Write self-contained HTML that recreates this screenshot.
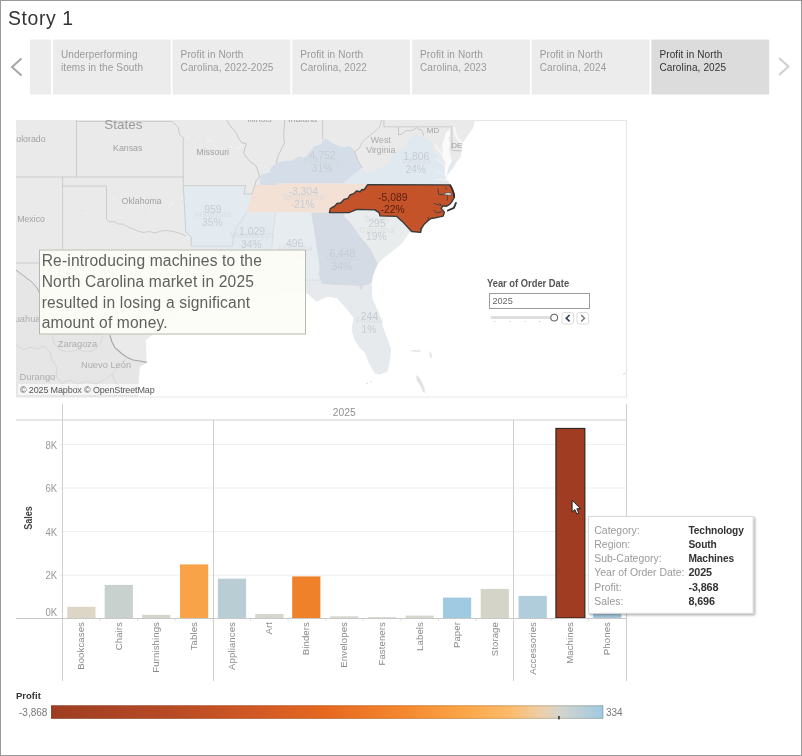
<!DOCTYPE html>
<html lang="en">
<head>
<meta charset="utf-8">
<title>Story 1</title>
<style>
html,body{margin:0;padding:0;background:#fff;}
body{width:802px;height:756px;position:relative;overflow:hidden;font-family:"Liberation Sans",sans-serif;color:#333;}
#frame{position:absolute;left:0;top:0;width:800px;height:754px;border:1px solid #9a9a9a;pointer-events:none;z-index:50;}
#title{position:absolute;left:8px;top:6.4px;font-size:19.4px;line-height:24px;color:#333;letter-spacing:0.6px;white-space:nowrap;}
.nav{position:absolute;top:40px;height:55px;z-index:3;box-sizing:border-box;padding:8px 0 0 8px;font-size:10px;line-height:13.3px;color:#9a9a9a;letter-spacing:0.12px;white-space:nowrap;}
.nav.on{color:#333;}
#anno{position:absolute;left:39px;top:250px;width:267px;height:85px;box-sizing:border-box;border:1px solid #b8b8b0;background:rgba(253,253,246,0.93);padding:0.4px 0 0 1.7px;transform:translate(0,-0.5px);font-size:15.6px;line-height:20.6px;color:#606060;white-space:nowrap;letter-spacing:0.15px;}
#flt-title{position:absolute;left:487px;top:277.6px;font-size:10px;transform:scaleX(0.935);transform-origin:0 0;font-weight:bold;color:#555;white-space:nowrap;letter-spacing:0;line-height:12px;}
#flt-box{position:absolute;left:489px;top:293px;width:101px;height:16px;box-sizing:border-box;border:1px solid #9c9c9c;background:#fff;font-size:9.2px;line-height:14px;padding-left:2.4px;color:#666;}
.btn{position:absolute;top:312px;width:12px;height:12px;box-sizing:border-box;border:1px solid #dcdcdc;border-radius:2px;background:#fff;}
#tip{position:absolute;left:588px;top:516px;width:166px;height:98px;box-sizing:border-box;border:1px solid #dcdcdc;background:#fff;box-shadow:1.5px 1.5px 2.5px rgba(0,0,0,0.3);z-index:20;}
#tip div{position:absolute;left:5.5px;margin-top:1px;font-size:10.45px;line-height:14px;color:#9a9a9a;white-space:nowrap;}
#tip div b{position:absolute;left:94px;top:0;color:#333;font-weight:bold;font-size:10.2px;letter-spacing:-0.1px;}
#attr{position:absolute;left:18px;top:384px;width:137px;height:11px;background:rgba(255,255,255,0.6);font-size:9px;line-height:12.4px;color:#585858;white-space:nowrap;padding-left:2px;letter-spacing:-0.15px;box-sizing:border-box;}
#lg-title{position:absolute;left:16px;top:689.5px;font-size:9.5px;font-weight:bold;color:#333;line-height:12px;}
#lg-min{position:absolute;left:19px;top:706.7px;font-size:10px;color:#777;line-height:12px;}
#lg-max{position:absolute;left:606px;top:706.7px;font-size:10px;color:#777;line-height:12px;}
#lg-bar{position:absolute;left:51px;top:705.4px;width:552.3px;height:13px;background:linear-gradient(to right,#9e3d22 0%,#b84a24 22%,#d35a25 38%,#e7691f 50%,#f5882f 64%,#fba445 74%,#fdba69 83%,#ecd0ab 89%,#d5d5cc 92%,#b9cfd8 96%,#9ecae1 100%);}
svg{position:absolute;left:0;top:0;}
</style>
</head>
<body>
<div id="title">Story 1</div>

<!-- navigator -->
<div class="nav" style="left:52.9px;width:118px;">Underperforming<br>items in the South</div>
<div class="nav" style="left:172.6px;width:118px;">Profit in North<br>Carolina, 2022-2025</div>
<div class="nav" style="left:292.3px;width:118px;">Profit in North<br>Carolina, 2022</div>
<div class="nav" style="left:412.0px;width:118px;">Profit in North<br>Carolina, 2023</div>
<div class="nav" style="left:531.7px;width:118px;">Profit in North<br>Carolina, 2024</div>
<div class="nav on" style="left:651.4px;width:118px;">Profit in North<br>Carolina, 2025</div>

<!-- MAP + CHART SVG -->
<svg id="main" width="802" height="756" viewBox="0 0 802 756">
<defs><clipPath id="mc"><rect x="16" y="120" width="611" height="277"/></clipPath></defs>
<rect x="16.5" y="120.5" width="610" height="276.5" fill="none" stroke="#e6e6e6" stroke-width="1"/>
<g clip-path="url(#mc)">
<path d="M16,120 L475.2,120 L472.9,128.5 L467.3,136.3 L462.8,143 L461.7,150.9 L460.6,157.6 L456.1,162 L452,168 L448.3,173.4 L447.5,176 L448.3,181.2 L449.9,184.6 L451,186.2 L453.7,193.7 L452.8,199.3 L447.2,203 L444.4,210.5 L443.4,215.2 L436,217 L428.5,219.9 L421.9,225.5 L421,231 L411.6,231.5 L409.7,232 L402.2,243 L391.9,251.4 L383.5,258 L377.9,263.6 L373.2,274.8 L371.4,283.2 L372.3,298.7 L379.8,315.5 L383.5,328.6 L391,349.2 L389.5,362 L387.3,371.6 L379.8,374.4 L375.1,373.5 L368.5,362.3 L364.8,352 L360.1,348.3 L354.5,339.8 L351.7,330.5 L353.6,317.4 L346.1,308 L336.8,297.8 L327.4,296.8 L316.2,301.5 L305.9,292.2 L290,292 L270,296 L250,298 L232,305 L215,302 L195,300 L180,310 L165,322 L152,335 L146,340 L146.7,362.4 L139.7,367 L138.4,385 L138,397 L16,397Z" fill="#eaeaea"/>
<path d="M16,270 L32.5,282.5 L40,293.7 L60,300 L85,315 L109.8,335 L114.7,347.4 L127.2,357.4 L139.7,361 L146.7,362.4 L139.7,367 L138.4,385 L138,397 L16,397Z" fill="#e6e6e6"/>
<path d="M259.7,177.1 L260.5,174.9 L269.5,172.6 L270.9,167.4 L276.9,162.9 L287.4,160.5 L290,160.9 L295.2,158.8 L298.7,156.1 L301.3,157 L304,157.9 L307.5,154.4 L311.8,149.6 L314,146.1 L319.7,144.8 L321.9,143.5 L322.9,139 L327.5,139.2 L331,142.6 L335.4,144.4 L339.7,146.5 L344.1,147 L349.3,145.7 L352.8,148.7 L354.7,151.4 L357.7,160.4 L362.2,167.9 L342.8,183.5 L277,183.5 L277,185 L259.7,185Z" fill="#d5dee8"/>
<path d="M255,185 L277,185 L277,183.8 L368,183.8 L364,190 L360.2,191.8 L353.7,193.7 L348,198.4 L340.6,203 L335,205.9 L330.3,208.7 L329.4,212.4 L246.4,212.4 L249,203 L252,194Z" fill="#f3e1d6"/>
<path d="M342.8,183.8 L362.2,167.9 L366.7,172.4 L371.9,171.6 L379.4,168.6 L386.9,164.9 L389.9,158.9 L395.8,151.4 L401.8,148.4 L407.8,140.9 L413.8,134.2 L416,132.7 L419.8,135 L423.5,135.7 L427.3,139.5 L434.7,142.4 L433.2,146.2 L431.8,149.9 L437.7,155.9 L443.7,163.4 L445.2,169.4 L443.7,175.4 L448.3,181.2 L449.9,184.6Z" fill="#e1e9f0"/>
<path d="M183.7,185.7 L245.5,185.7 L244,194 L252,194 L249,203 L246.4,212 L241.7,220.6 L236,228 L233.3,237.4 L232.4,246.2 L191.2,246.2 L191.2,237 L185.8,232Z" fill="#e4ebf0"/>
<path d="M191.2,246.2 L232.4,246.2 L232,260 L240,275 L262,275 L264,296 L232,305 L215,302 L195,300 L196,270Z" fill="#e5eaee"/>
<path d="M246.4,212.4 L275.4,212.4 L271.6,249.6 L271,285 L272,296 L264,296 L262,275 L240,275 L232,260 L232.4,246.2 L233.3,237.4 L236,228 L241.7,220.6Z" fill="#e3eaef"/>
<path d="M275.4,212.4 L311.8,212.4 L320.3,263.6 L318.4,274.8 L320,280.2 L285,280.2 L286,293 L272,296 L271,285 L271.6,249.6Z" fill="#e6ecf0"/>
<path d="M311.5,212.7 L344,212.7 L344.2,215.9 L351.7,224.3 L361,237.4 L370.4,248.6 L375,258 L377.9,263.6 L373.2,274.8 L371.4,283.2 L363,286 L362,289.8 L360,289.8 L359.2,286 L321.8,284.2 L319,274.8 L319.5,265.5Z" fill="#d4dbe5"/>
<path d="M344,212.7 L350,208 L380,208 L380,214 L398,214 L409.7,230.9 L409.7,232 L402.2,243 L391.9,251.4 L383.5,258 L377.9,263.6 L375,258 L370.4,248.6 L361,237.4 L351.7,224.3 L344.2,215.9Z" fill="#e9eced"/>
<path d="M285,280.2 L320,280.2 L321.8,284.2 L359.2,286 L360,289.8 L362,289.8 L363,286 L371.4,283.2 L372.3,298.7 L379.8,315.5 L383.5,328.6 L391,349.2 L389.5,362 L387.3,371.6 L379.8,374.4 L375.1,373.5 L368.5,362.3 L364.8,352 L360.1,348.3 L354.5,339.8 L351.7,330.5 L353.6,317.4 L346.1,308 L336.8,297.8 L327.4,296.8 L316.2,301.5 L305.9,292.2 L286,293Z" fill="#e7eaec"/>
<path d="M449.4,129.5 L450.2,134 L448.5,138 L449.8,143 L449.2,150 L450.5,156 L452,160.5 L449,166 L447.5,172 L447.5,176 L448.3,181.2 L446,179.5 L444.6,171 L445.2,163 L442.8,158 L442.6,150 L442.2,144 L444.2,139 L445.6,133Z" fill="#fbfbfb"/>
<path d="M453.3,125.7 L455.5,128 L456,132 L458.4,137.4 L461,141 L463,143 L461,144 L457,140 L454,134 L453,129Z" fill="#f6f6f6"/>
<path d="M443.5,157 L440,151.5 L436.8,147.8 L434.6,144.2" fill="none" stroke="#f7f9fa" stroke-width="1.3" stroke-linecap="round" opacity="0.85"/>
<path d="M445,166 L440.5,162 L436.5,159" fill="none" stroke="#f7f9fa" stroke-width="0.8" stroke-linecap="round" opacity="0.85"/>
<path d="M444.5,175.5 L440.5,172.5 L436.5,171" fill="none" stroke="#f7f9fa" stroke-width="0.8" stroke-linecap="round" opacity="0.85"/>
<path d="M446,181 L441.5,179.2 L437,179.6" fill="none" stroke="#f7f9fa" stroke-width="0.9" stroke-linecap="round" opacity="0.85"/>
<path d="M456,158.8 L458.4,158.8 L453,168 L448.3,174 L447.6,172 L450,166 L452.7,160Z" fill="#e1e9f0"/>
<path d="M76.5,120 L76.5,177" fill="none" stroke="#c5c5c5" stroke-width="0.8"/>
<path d="M16,177 L183.3,177" fill="none" stroke="#c5c5c5" stroke-width="0.8"/>
<path d="M76.5,121.5 L172,121.5 L175,124 L178.3,127.5 L179.5,135 L183.3,137.4 L183.3,185 L185.8,232 L191.2,237 L191.2,246.2" fill="none" stroke="#c5c5c5" stroke-width="0.8"/>
<path d="M62.6,177 L62.6,250" fill="none" stroke="#c5c5c5" stroke-width="0.8"/>
<path d="M62.6,186 L106.5,186 L106.5,219 L110,222 L114,221.5 L118,224 L123,224 L128,227 L133,229 L138,231 L143,232.5 L149,231.5 L155,233 L161,231 L167,230.5 L173,231.5 L179,233 L186,236" fill="none" stroke="#c5c5c5" stroke-width="0.8"/>
<path d="M183.7,185.7 L245.5,185.7 L244,194 L252,194 L254.8,185" fill="none" stroke="#c5c5c5" stroke-width="0.8"/>
<path d="M226.8,120.3 L231,127 L236,132.4 L239,139 L241.7,142.7 L246.4,143.7 L245,148 L243.6,153 L247,158 L250,161.4 L256,165.9 L258,171 L259.5,176.5 L256,181 L254.8,185" fill="none" stroke="#bdbdbd" stroke-width="0.8"/>
<path d="M284.7,120 L283.7,134.5 L284.4,143.4 L281,150 L278.4,155.4 L276.2,162.9" fill="none" stroke="#bdbdbd" stroke-width="0.8"/>
<path d="M322.6,120 L322.6,139" fill="none" stroke="#c5c5c5" stroke-width="0.8"/>
<path d="M354.7,151.4 L359.2,148.4 L362.2,142.4 L365.9,138.7 L373.4,132.7 L379.4,127.5 L381.6,120" fill="none" stroke="#c5c5c5" stroke-width="0.8"/>
<path d="M383.9,120 L383.9,126.8 L451.8,126.8" fill="none" stroke="#c5c5c5" stroke-width="0.8"/>
<path d="M398.5,127 L398.5,135 L401.8,134.2 L404.5,131.5 L407.8,130.5 L410.5,131 L413.8,129.7 L416.8,127.5 L419,129.5 L421.3,129.7 L423.5,134.2 L423.5,135.7" fill="none" stroke="#bdbdbd" stroke-width="0.8"/>
<path d="M451.8,126.2 L451.8,149.8 L453,150.6 L461.7,150.9" fill="none" stroke="#c4c4c4" stroke-width="0.9"/>
<path d="M362.2,167.9 L357.7,160.4 L354.7,151.4" fill="none" stroke="#c5c5c5" stroke-width="0.8"/>
<path d="M275.4,212.4 L271.6,249.6" fill="none" stroke="#d6dce0" stroke-width="0.8"/>
<path d="M311.8,212.4 L320.3,263.6" fill="none" stroke="#d6dce0" stroke-width="0.6"/>
<path d="M232.4,246.2 L233.3,237.4 L236,228 L241.7,220.6 L246.4,212" fill="none" stroke="#cfd6db" stroke-width="0.8"/>
<path d="M191.2,246.2 L232.4,246.2" fill="none" stroke="#d0d6da" stroke-width="0.8"/>
<path d="M285,280.2 L320,280.2" fill="none" stroke="#d9dde0" stroke-width="0.8"/>
<path d="M16,263 L40,263" fill="none" stroke="#c5c5c5" stroke-width="0.8"/>
<path d="M16,270 L24,276 L32.5,282.5 L37,288 L40,293.7" fill="none" stroke="#ababab" stroke-width="1"/>
<path d="M109.8,335 L112,342 L114.7,347.4 L121,353 L127.2,357.4 L133,360 L139.7,361 L146.7,362.4" fill="none" stroke="#a6a6a6" stroke-width="1.1"/>
<path d="M16,345 L24,350 L30,347 L38,349 L44,346 L50,352 L52,360 L57,368 L56,376 L62,383 L60,390 L64,397" fill="none" stroke="#d0d0d0" stroke-width="0.7"/>
<path d="M52,334 L54,343 L60,350 L68,352 L78,350 L88,352 L96,349 L100,343 L103,336" fill="none" stroke="#d2d2d2" stroke-width="0.7"/>
<path d="M62,383 L70,380 L78,384 L86,381 L96,384 L104,380 L112,374 L118,366 L127.2,357.4" fill="none" stroke="#d2d2d2" stroke-width="0.7"/>
<path d="M96,384 L97,391 L95,397" fill="none" stroke="#d2d2d2" stroke-width="0.7"/>
<path d="M112,374 L116,384 L114,397" fill="none" stroke="#d2d2d2" stroke-width="0.7"/>
<path d="M207.4,137.5 L208.4,140.2 L209.9,141.2 L212.3,141.2" fill="none" stroke="#f6f6f6" stroke-width="0.9" stroke-linecap="round" opacity="0.9"/>
<path d="M187.4,136.2 L189.9,138.1" fill="none" stroke="#f6f6f6" stroke-width="0.9" stroke-linecap="round" opacity="0.9"/>
<path d="M207.4,156.8 L209.8,157.6 L212.3,156.2" fill="none" stroke="#f6f6f6" stroke-width="0.9" stroke-linecap="round" opacity="0.9"/>
<path d="M234.8,148.7 L238.5,147.6 L242.3,145" fill="none" stroke="#f6f6f6" stroke-width="0.9" stroke-linecap="round" opacity="0.9"/>
<path d="M198.5,136 L200,136.6" fill="none" stroke="#f6f6f6" stroke-width="0.9" stroke-linecap="round" opacity="0.9"/>
<path d="M214,145.5 L217,147.5" fill="none" stroke="#f6f6f6" stroke-width="0.9" stroke-linecap="round" opacity="0.9"/>
<path d="M229,146 L231.5,147.2" fill="none" stroke="#f6f6f6" stroke-width="0.9" stroke-linecap="round" opacity="0.9"/>
<path d="M112,197.5 L114,199.5" fill="none" stroke="#f6f6f6" stroke-width="0.9" stroke-linecap="round" opacity="0.9"/>
<path d="M168,207 L170.5,205 L172,202" fill="none" stroke="#f6f6f6" stroke-width="0.9" stroke-linecap="round" opacity="0.9"/>
<path d="M150,213 L152,214.5" fill="none" stroke="#f6f6f6" stroke-width="0.9" stroke-linecap="round" opacity="0.9"/>
<path d="M85,213 L87,214" fill="none" stroke="#f6f6f6" stroke-width="0.9" stroke-linecap="round" opacity="0.9"/>
<text x="123.4" y="129" font-size="13.5" fill="#9a9a9a" text-anchor="middle" >States</text>
<text x="127.7" y="150.5" font-size="8.8" fill="#a2a2a2" text-anchor="middle" >Kansas</text>
<text x="45.6" y="141.8" font-size="8.8" fill="#a2a2a2" text-anchor="end" >Colorado</text>
<text x="141.6" y="204.2" font-size="8.8" fill="#a2a2a2" text-anchor="middle" >Oklahoma</text>
<text x="45" y="221.6" font-size="8.8" fill="#a2a2a2" text-anchor="end" >New Mexico</text>
<text x="212.7" y="155.2" font-size="8.8" fill="#a2a2a2" text-anchor="middle" >Missouri</text>
<text x="259.5" y="122.4" font-size="8.8" fill="#a2a2a2" text-anchor="middle" >Illinois</text>
<text x="302.5" y="122.4" font-size="8.8" fill="#a2a2a2" text-anchor="middle" >Indiana</text>
<text x="380.8" y="143.2" font-size="8.8" fill="#aaaaaa" text-anchor="middle" >West</text>
<text x="380.8" y="153" font-size="8.8" fill="#aaaaaa" text-anchor="middle" >Virginia</text>
<text x="433" y="133.2" font-size="8" fill="#a2a2a2" text-anchor="middle" >MD</text>
<text x="456.8" y="147.8" font-size="8" fill="#a2a2a2" text-anchor="middle" >DE</text>
<text x="40.5" y="321.8" font-size="9.3" fill="#adadad" text-anchor="end" >Chihuahua</text>
<text x="77.5" y="334.5" font-size="9.3" fill="#c4c4c4" text-anchor="middle" >Coahuila de</text>
<text x="77.5" y="346.8" font-size="9.3" fill="#adadad" text-anchor="middle" >Zaragoza</text>
<text x="106" y="368" font-size="9.3" fill="#adadad" text-anchor="middle" >Nuevo León</text>
<text x="37.4" y="380.4" font-size="9.3" fill="#adadad" text-anchor="middle" >Durango</text>
<text x="322" y="163.5" font-size="9" fill="#cdd1d5" text-anchor="middle" opacity="0.5">Kentucky</text>
<text x="303" y="200" font-size="9" fill="#cdd1d5" text-anchor="middle" opacity="0.5">Tennessee</text>
<text x="212.5" y="217" font-size="9" fill="#cdd1d5" text-anchor="middle" opacity="0.5">Arkansas</text>
<text x="251.5" y="238" font-size="9" fill="#cdd1d5" text-anchor="middle" opacity="0.5">Mississippi</text>
<text x="295" y="250.5" font-size="9" fill="#cdd1d5" text-anchor="middle" opacity="0.5">Alabama</text>
<text x="416" y="163.5" font-size="9" fill="#cdd1d5" text-anchor="middle" opacity="0.5">Virginia</text>
<text x="342" y="261" font-size="9" fill="#cdd1d5" text-anchor="middle" opacity="0.5">Georgia</text>
<text x="369.5" y="323" font-size="9" fill="#cdd1d5" text-anchor="middle" opacity="0.5">Florida</text>
<text x="377" y="222" font-size="9.5" fill="#d5d7d9" text-anchor="middle" opacity="0.6">South</text>
<text x="377" y="233" font-size="9.5" fill="#d5d7d9" text-anchor="middle" opacity="0.6">Carolina</text>
<text x="322.6" y="159.1" font-size="10.4" fill="#c6ccd3" text-anchor="middle" >4,752</text>
<text x="322" y="172.2" font-size="10.3" fill="#c6ccd3" text-anchor="middle" >31%</text>
<text x="303.2" y="195.1" font-size="10.4" fill="#c6ccd3" text-anchor="middle" >-3,304</text>
<text x="302.6" y="208.2" font-size="10.3" fill="#c6ccd3" text-anchor="middle" >-21%</text>
<text x="212.9" y="212.6" font-size="10.4" fill="#c6ccd3" text-anchor="middle" >959</text>
<text x="212.3" y="225.7" font-size="10.3" fill="#c6ccd3" text-anchor="middle" >35%</text>
<text x="252" y="234.5" font-size="10.4" fill="#c6ccd3" text-anchor="middle" >1,029</text>
<text x="251.4" y="247.6" font-size="10.3" fill="#c6ccd3" text-anchor="middle" >34%</text>
<text x="294.6" y="247.2" font-size="10.4" fill="#c6ccd3" text-anchor="middle" >496</text>
<text x="294" y="260.3" font-size="10.3" fill="#c6ccd3" text-anchor="middle" >27%</text>
<text x="416.3" y="159.8" font-size="10.4" fill="#c6ccd3" text-anchor="middle" >1,806</text>
<text x="415.7" y="172.9" font-size="10.3" fill="#c6ccd3" text-anchor="middle" >24%</text>
<text x="377" y="226.9" font-size="10.4" fill="#c6ccd3" text-anchor="middle" >295</text>
<text x="376.4" y="240" font-size="10.3" fill="#c6ccd3" text-anchor="middle" >19%</text>
<text x="342.4" y="257.2" font-size="10.4" fill="#c6ccd3" text-anchor="middle" >6,448</text>
<text x="341.8" y="270.3" font-size="10.3" fill="#c6ccd3" text-anchor="middle" >34%</text>
<text x="369.5" y="319.5" font-size="10.4" fill="#c6ccd3" text-anchor="middle" >244</text>
<text x="368.9" y="332.6" font-size="10.3" fill="#c6ccd3" text-anchor="middle" >1%</text>
<path d="M367.7,184.6 L449.9,184.9 L451.9,188.3 L453.9,193.9 L454.3,197.4 L452.3,201 L449.9,204.2 L446.7,206.2 L442.8,205.8 L441.2,208.6 L444.4,212.1 L443.2,216.1 L439.6,216.9 L435.6,217.7 L430.9,218.5 L427.7,220.9 L423.7,224.8 L421.3,228.8 L420.6,232.4 L411.6,231.5 L402.8,221.9 L396.8,216.4 L379.9,215.9 L379.4,212.9 L374.9,209.9 L356.9,209.4 L348.9,212.6 L329.4,212.6 L330.3,208.7 L335,205.9 L337,203.5 L340.6,203 L344,199.5 L348,198.4 L350,195 L353.7,193.7 L356.5,191 L360.2,191.8 L362,189.5 L364,190Z" fill="#c5532a" stroke="#3a3a3a" stroke-width="1.4" stroke-linejoin="round"/>
<path d="M442.6,194.6 L445,193.2 L448,192.6 L451.4,193.2 L452,195 L448.5,195.2 L445.5,194.8Z" fill="#f6f2f0" stroke="#3a3a3a" stroke-width="0.7"/>
<path d="M438,188.7 L438.3,192 L438.8,194.6 L442.6,194.6" fill="none" stroke="#444" stroke-width="1"/>
<path d="M447.5,196.3 L447.6,198.5 L447.1,200.6" fill="none" stroke="#444" stroke-width="1"/>
<path d="M433.7,203.4 L437.5,204.6 L441.2,205.4" fill="none" stroke="#444" stroke-width="1"/>
<path d="M439.5,203.2 L441.2,205.4" fill="none" stroke="#444" stroke-width="1"/>
<path d="M433.3,210.1 L435,211.8 L437.2,212.9 L442,211.7" fill="none" stroke="#444" stroke-width="1"/>
<path d="M428,217 L428.4,219.5" fill="none" stroke="#444" stroke-width="1"/>
<path d="M420.6,227.5 L420.9,231" fill="none" stroke="#444" stroke-width="1"/>
<path d="M445.5,187.5 L447,189.5" fill="none" stroke="#444" stroke-width="1"/>
<path d="M449.9,184.7 L451.9,188.3 L453.9,193.9 L454.3,197.4" fill="none" stroke="#333" stroke-width="1.8"/>
<path d="M447.9,210.5 L453.9,207.8 L455.9,203" fill="none" stroke="#333" stroke-width="1.9" stroke-linecap="round" stroke-linejoin="round"/>
<text x="392.8" y="200.8" font-size="10.3" fill="#561f0c" text-anchor="middle" >-5,089</text>
<text x="392.6" y="213.2" font-size="10.3" fill="#561f0c" text-anchor="middle" >-22%</text>
<path d="M410,351.2 L413,350 L417,350.2 L421,350.8 L420,352 L414,351.5Z" fill="#e2e2e2"/>
<path d="M429,351 L430.5,352 L432,356 L431,358.5 L430,356Z" fill="#e2e2e2"/>
<path d="M416,375 L419,377 L422,382 L424.5,388 L425,393 L423,392 L420.5,386 L417,381Z" fill="#e2e2e2"/>
<path d="M366,383.8 L368,383 M370,382.3 L372,381.6" stroke="#d6d6d6" stroke-width="0.9" fill="none"/>
<path d="M623,374.5 L625.5,373" stroke="#cfcfcf" stroke-width="0.9" fill="none"/>
</g>
<line x1="58.5" y1="444.5" x2="626.5" y2="444.5" stroke="#efefef" stroke-width="1"/>
<line x1="58.5" y1="488" x2="626.5" y2="488" stroke="#efefef" stroke-width="1"/>
<line x1="58.5" y1="531.6" x2="626.5" y2="531.6" stroke="#efefef" stroke-width="1"/>
<line x1="58.5" y1="575.2" x2="626.5" y2="575.2" stroke="#efefef" stroke-width="1"/>
<line x1="16" y1="420" x2="626.5" y2="420" stroke="#cfcfcf" stroke-width="1"/>
<line x1="62.5" y1="404" x2="62.5" y2="681" stroke="#cfcfcf" stroke-width="1"/>
<line x1="626.5" y1="404" x2="626.5" y2="681" stroke="#cfcfcf" stroke-width="1"/>
<line x1="213.5" y1="420" x2="213.5" y2="681" stroke="#cfcfcf" stroke-width="1"/>
<line x1="513.5" y1="420" x2="513.5" y2="681" stroke="#cfcfcf" stroke-width="1"/>
<rect x="67.3" y="606.8" width="28.2" height="11.2" fill="#ddd5c5"/>
<rect x="104.7" y="584.9" width="28.2" height="33.1" fill="#c8d1cd"/>
<rect x="142.1" y="614.8" width="28.2" height="3.2" fill="#d5d5cb"/>
<rect x="180" y="564.4" width="28.2" height="53.6" fill="#f9a348"/>
<rect x="217.9" y="578.7" width="28.2" height="39.3" fill="#b9cdd5"/>
<rect x="255.3" y="614" width="28.2" height="4" fill="#d5d6cc"/>
<rect x="292.2" y="576.4" width="28.2" height="41.6" fill="#f0812b"/>
<rect x="330.1" y="616.3" width="28.2" height="1.7" fill="#d8d8cf"/>
<rect x="368" y="617.2" width="28.2" height="0.8" fill="#d8d8cf"/>
<rect x="405.6" y="615.6" width="28.2" height="2.4" fill="#d6d6cd"/>
<rect x="443" y="597.6" width="28.2" height="20.4" fill="#9fcae2"/>
<rect x="480.7" y="588.9" width="28.2" height="29.1" fill="#d5d4c8"/>
<rect x="518.6" y="595.9" width="28.2" height="22.1" fill="#b0cddb"/>
<rect x="555.9" y="428.4" width="29" height="189.6" fill="#a03c22" stroke="#1a1a1a" stroke-width="1"/>
<rect x="593.2" y="600" width="28.2" height="18" fill="#a5c8dc"/>
<line x1="16" y1="618.5" x2="626.5" y2="618.5" stroke="#c8c8c8" stroke-width="1"/>
<line x1="100.1" y1="619" x2="100.1" y2="621" stroke="#e2e2e2" stroke-width="1"/>
<line x1="137.7" y1="619" x2="137.7" y2="621" stroke="#e2e2e2" stroke-width="1"/>
<line x1="175.3" y1="619" x2="175.3" y2="621" stroke="#e2e2e2" stroke-width="1"/>
<line x1="212.9" y1="619" x2="212.9" y2="621" stroke="#e2e2e2" stroke-width="1"/>
<line x1="250.5" y1="619" x2="250.5" y2="621" stroke="#e2e2e2" stroke-width="1"/>
<line x1="288.1" y1="619" x2="288.1" y2="621" stroke="#e2e2e2" stroke-width="1"/>
<line x1="325.7" y1="619" x2="325.7" y2="621" stroke="#e2e2e2" stroke-width="1"/>
<line x1="363.3" y1="619" x2="363.3" y2="621" stroke="#e2e2e2" stroke-width="1"/>
<line x1="400.9" y1="619" x2="400.9" y2="621" stroke="#e2e2e2" stroke-width="1"/>
<line x1="438.5" y1="619" x2="438.5" y2="621" stroke="#e2e2e2" stroke-width="1"/>
<line x1="476.1" y1="619" x2="476.1" y2="621" stroke="#e2e2e2" stroke-width="1"/>
<line x1="513.7" y1="619" x2="513.7" y2="621" stroke="#e2e2e2" stroke-width="1"/>
<line x1="551.3" y1="619" x2="551.3" y2="621" stroke="#e2e2e2" stroke-width="1"/>
<line x1="588.9" y1="619" x2="588.9" y2="621" stroke="#e2e2e2" stroke-width="1"/>
<text transform="translate(57.2,448.50) scale(0.92,1)" font-size="10.4" fill="#999" text-anchor="end">8K</text>
<text transform="translate(57.2,492.00) scale(0.92,1)" font-size="10.4" fill="#999" text-anchor="end">6K</text>
<text transform="translate(57.2,535.60) scale(0.92,1)" font-size="10.4" fill="#999" text-anchor="end">4K</text>
<text transform="translate(57.2,579.30) scale(0.92,1)" font-size="10.4" fill="#999" text-anchor="end">2K</text>
<text transform="translate(57.2,615.70) scale(0.92,1)" font-size="10.4" fill="#999" text-anchor="end">0K</text>
<text transform="translate(32.1,518) rotate(-90) scale(0.87,1)" font-size="10.4" font-weight="bold" fill="#444" text-anchor="middle">Sales</text>
<text x="344.3" y="415.8" font-size="10.3" fill="#8f8f8f" text-anchor="middle">2025</text>
<text transform="translate(84.2,622) rotate(-90)" font-size="9.6" fill="#8a8a8a" text-anchor="end" letter-spacing="0.1">Bookcases</text>
<text transform="translate(121.6,622) rotate(-90)" font-size="9.6" fill="#8a8a8a" text-anchor="end" letter-spacing="0.1">Chairs</text>
<text transform="translate(159,622) rotate(-90)" font-size="9.6" fill="#8a8a8a" text-anchor="end" letter-spacing="0.1">Furnishings</text>
<text transform="translate(196.9,622) rotate(-90)" font-size="9.6" fill="#8a8a8a" text-anchor="end" letter-spacing="0.1">Tables</text>
<text transform="translate(234.8,622) rotate(-90)" font-size="9.6" fill="#8a8a8a" text-anchor="end" letter-spacing="0.1">Appliances</text>
<text transform="translate(272.2,622) rotate(-90)" font-size="9.6" fill="#8a8a8a" text-anchor="end" letter-spacing="0.1">Art</text>
<text transform="translate(309.1,622) rotate(-90)" font-size="9.6" fill="#8a8a8a" text-anchor="end" letter-spacing="0.1">Binders</text>
<text transform="translate(347,622) rotate(-90)" font-size="9.6" fill="#8a8a8a" text-anchor="end" letter-spacing="0.1">Envelopes</text>
<text transform="translate(384.9,622) rotate(-90)" font-size="9.6" fill="#8a8a8a" text-anchor="end" letter-spacing="0.1">Fasteners</text>
<text transform="translate(422.5,622) rotate(-90)" font-size="9.6" fill="#8a8a8a" text-anchor="end" letter-spacing="0.1">Labels</text>
<text transform="translate(459.9,622) rotate(-90)" font-size="9.6" fill="#8a8a8a" text-anchor="end" letter-spacing="0.1">Paper</text>
<text transform="translate(497.6,622) rotate(-90)" font-size="9.6" fill="#8a8a8a" text-anchor="end" letter-spacing="0.1">Storage</text>
<text transform="translate(535.5,622) rotate(-90)" font-size="9.6" fill="#8a8a8a" text-anchor="end" letter-spacing="0.1">Accessories</text>
<text transform="translate(573.2,622) rotate(-90)" font-size="9.6" fill="#8a8a8a" text-anchor="end" letter-spacing="0.1">Machines</text>
<text transform="translate(610.1,622) rotate(-90)" font-size="9.6" fill="#8a8a8a" text-anchor="end" letter-spacing="0.1">Phones</text>
<path d="M572.10,500.30 L572.10,512.10 L574.80,509.60 L576.85,514.00 L578.80,513.10 L576.85,508.80 L580.50,508.60Z" fill="#fff" stroke="#222" stroke-width="1" stroke-linejoin="round"/>
<defs><linearGradient id="lg" x1="0" x2="1" y1="0" y2="0"><stop offset="0%" stop-color="#9e3d22"/><stop offset="22%" stop-color="#b84a24"/><stop offset="38%" stop-color="#d35a25"/><stop offset="50%" stop-color="#e7691f"/><stop offset="64%" stop-color="#f5882f"/><stop offset="74%" stop-color="#fba445"/><stop offset="83%" stop-color="#fdba69"/><stop offset="89%" stop-color="#ecd0ab"/><stop offset="92%" stop-color="#d5d5cc"/><stop offset="96%" stop-color="#b9cfd8"/><stop offset="100%" stop-color="#9ecae1"/></linearGradient></defs>
<rect x="51" y="705.3" width="552.3" height="13.5" fill="url(#lg)"/>
<rect x="51.5" y="705.8" width="551.3" height="12.5" fill="none" stroke="#6b5a45" stroke-opacity="0.28" stroke-width="1"/>
<rect x="558.2" y="716" width="1.5" height="3.4" fill="#2a2a2a"/>
<rect x="30" y="39.6" width="21" height="54.9" fill="#ececec"/>
<rect x="52.9" y="39.6" width="117.8" height="54.9" fill="#ececec"/>
<rect x="172.6" y="39.6" width="117.8" height="54.9" fill="#ececec"/>
<rect x="292.3" y="39.6" width="117.8" height="54.9" fill="#ececec"/>
<rect x="412.0" y="39.6" width="117.8" height="54.9" fill="#ececec"/>
<rect x="531.7" y="39.6" width="117.8" height="54.9" fill="#ececec"/>
<rect x="651.4" y="39.6" width="117.8" height="54.9" fill="#dcdcdc"/>
<path d="M21.5,58.5 L12,67 L21.5,75.5" fill="none" stroke="#a6a6a6" stroke-width="2"/>
<path d="M779,58 L788.5,66.5 L779,75" fill="none" stroke="#cfcfcf" stroke-width="2"/>
<line x1="492" y1="317.5" x2="551" y2="317.5" stroke="#dedede" stroke-width="3" stroke-linecap="round"/>
<rect x="494.5" y="321" width="1" height="1" fill="#c4c4c4"/>
<rect x="509.5" y="321" width="1" height="1" fill="#c4c4c4"/>
<rect x="524.5" y="321" width="1" height="1" fill="#c4c4c4"/>
<rect x="539.0" y="321" width="1" height="1" fill="#c4c4c4"/>
<circle cx="554.2" cy="317.6" r="3.4" fill="#fff" stroke="#666" stroke-width="1.1"/>
<rect x="562" y="312.5" width="11.5" height="11.5" rx="2" fill="#fff" stroke="#dcdcdc" stroke-width="1"/><rect x="577" y="312.5" width="11.5" height="11.5" rx="2" fill="#fff" stroke="#dcdcdc" stroke-width="1"/>
<path d="M569.6,315 L566.3,318.2 L569.6,321.4" fill="none" stroke="#2b3a57" stroke-width="1.6"/>
<path d="M581.2,315 L584.5,318.2 L581.2,321.4" fill="none" stroke="#777" stroke-width="1.4"/>
</svg>

<div id="attr">© 2025 Mapbox © OpenStreetMap</div>
<div id="anno">Re-introducing machines to the<br>North Carolina market in 2025<br>resulted in losing a significant<br>amount of money.</div>

<div id="flt-title">Year of Order Date</div>
<div id="flt-box">2025</div>

<div id="lg-title">Profit</div>
<div id="lg-min">-3,868</div>
<div id="lg-max">334</div>

<svg id="top" width="802" height="756" viewBox="0 0 802 756" style="z-index:20">
<defs><filter id="ds" x="-10%" y="-10%" width="130%" height="130%"><feDropShadow dx="1.4" dy="1.4" stdDeviation="1.1" flood-color="#000" flood-opacity="0.32"/></filter></defs>
<rect x="588.5" y="516.5" width="164.6" height="96.8" fill="#fff" stroke="#d9d9d9" stroke-width="1" filter="url(#ds)"/>
<text x="594.3" y="534.00" font-size="10.45" fill="#9a9a9a">Category:</text>
<text x="688.4" y="534.00" font-size="10.2" font-weight="bold" fill="#333" letter-spacing="-0.1">Technology</text>
<text x="594.3" y="548.16" font-size="10.45" fill="#9a9a9a">Region:</text>
<text x="688.4" y="548.16" font-size="10.2" font-weight="bold" fill="#333" letter-spacing="-0.1">South</text>
<text x="594.3" y="562.32" font-size="10.45" fill="#9a9a9a">Sub-Category:</text>
<text x="688.4" y="562.32" font-size="10.2" font-weight="bold" fill="#333" letter-spacing="-0.1">Machines</text>
<text x="594.3" y="576.48" font-size="10.45" fill="#9a9a9a">Year of Order Date:</text>
<text x="688.4" y="576.48" font-size="10.8" font-weight="bold" fill="#333" letter-spacing="-0.1">2025</text>
<text x="594.3" y="590.64" font-size="10.45" fill="#9a9a9a">Profit:</text>
<text x="688.4" y="590.64" font-size="10.8" font-weight="bold" fill="#333" letter-spacing="-0.1">-3,868</text>
<text x="594.3" y="604.80" font-size="10.45" fill="#9a9a9a">Sales:</text>
<text x="688.4" y="604.80" font-size="10.8" font-weight="bold" fill="#333" letter-spacing="-0.1">8,696</text>
</svg>
<div id="frame"></div>
</body>
</html>
